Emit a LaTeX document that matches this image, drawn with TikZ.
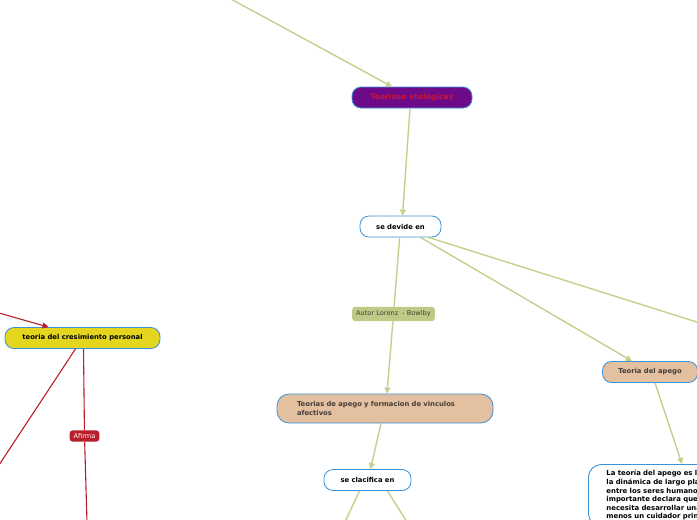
\documentclass[tikz,border=0pt]{standalone}
\usepackage{fontspec}
\setsansfont{DejaVu Sans}
\usepackage{tikz}
\usetikzlibrary{positioning,calc}
\usetikzlibrary{arrows.meta}
\definecolor{MapGreen}{RGB}{196,208,140}
\definecolor{MapBlue}{RGB}{58,146,216}
\definecolor{MapPurple}{RGB}{108,10,138}
\definecolor{MapRed}{RGB}{204,20,50}
\definecolor{LineRed}{RGB}{184,30,44}
\definecolor{MapTan}{RGB}{226,192,160}
\definecolor{MapYellow}{RGB}{228,214,30}
\definecolor{TagGreen}{RGB}{190,202,134}
\definecolor{TextGray}{RGB}{70,62,56}
\tikzset{
  box/.style={draw=MapBlue,line width=0.8pt,rounded corners=9pt,minimum height=21pt,
    inner xsep=6pt,font=\sffamily\bfseries\fontsize{6.8}{8.2}\selectfont},
  topic/.style={box,fill=MapPurple,text=MapRed,minimum width=120pt,font=\sffamily\bfseries\fontsize{7.6}{8.5}\selectfont},
  sub/.style={box,fill=white,text=black},
  tan/.style={box,fill=MapTan,text=TextGray},
  note/.style={draw=MapBlue,line width=0.9pt,fill=white,rounded corners=13pt,anchor=north west,
    inner xsep=18pt,inner ysep=6pt,text width=180pt,align=left,
    font=\sffamily\bfseries\fontsize{6.9}{8.6}\selectfont},
  tag/.style={rounded corners=3pt,inner xsep=4pt,inner ysep=4pt,font=\sffamily\fontsize{6.6}{7}\selectfont},
  edge/.style={draw=MapGreen,line width=1.4pt},
  redge/.style={draw=LineRed,line width=1.1pt},
}
\tikzset{tip/.style={-{Triangle[length=6pt,width=6pt]}}}

\begin{document}
\begin{tikzpicture}[x=1pt,y=-1pt]
\useasboundingbox (0,0) rectangle (697,520);
\clip (0,0) rectangle (697,520);
\fill[white] (0,0) rectangle (697,520);
% free ends
\coordinate (topin) at (231,-1);
\coordinate (rightout) at (700,323);
\coordinate (clleft) at (345,522);
\coordinate (clright) at (407,522);
\coordinate (redin) at (-1,313);
\coordinate (redleft) at (-1,465);
\coordinate (reddown) at (87,522);
% nodes
\node[topic] (etol) at (412,97.5) {Teoriasn etológicas};
\node[sub,minimum width=81pt] (devide) at (400.5,226.5) {se devide en};
\node[tag,fill=TagGreen,text=TextGray] (lorenz) at (393.5,314) {Autor Lorenz~~- Bowlby};
\node[tan,minimum width=216pt,minimum height=29pt,rounded corners=12pt,text width=176pt,align=left,inner xsep=20pt] (formacion) at (385,408.5)
  {Teorias de apego y formacion de vinculos\\afectivos};
\node[sub,minimum width=87pt] (clasif) at (367.5,480) {se clacifica en};
\node[tan,minimum width=95pt] (apego) at (650,372) {Teoría del apego};
\node[note] (texto) at (588,464) {La teoría del apego es la descripción de\\
  la dinámica de largo plazo de las relaciones\\
  entre los seres humanos. Su principio más\\
  importante declara que un recién nacido\\
  necesita desarrollar una relación con al\\
  menos un cuidador principal};
\node[box,fill=MapYellow,text=black,minimum width=155pt] (crec) at (82.5,338) {teoria del cresimiento personal};
\node[tag,fill=LineRed,text=white,inner ysep=3pt] (afirma) at (84.5,436) {Afirma};
% green links
\draw[edge,tip] (topin) -- ([xshift=-20pt]etol.north);
\draw[edge,tip] ([xshift=-2pt]etol.south) -- ([xshift=2pt]devide.north);
\draw[edge] (devide) -- (lorenz);
\draw[edge,tip] (lorenz) -- ([xshift=2pt]formacion.north);
\draw[edge,tip] ([xshift=20pt]devide.south) -- ([xshift=-18pt]apego.north);
\draw[edge] ([xshift=28pt]devide.south) -- (rightout);
\draw[edge,tip] ([xshift=-4pt]formacion.south) -- ([xshift=3pt]clasif.north);
\draw[edge] ([xshift=-8pt]clasif.south) -- (clleft);
\draw[edge] ([xshift=20pt]clasif.south) -- (clright);
\draw[edge,tip] ([xshift=5pt]apego.south) -- ([xshift=94pt]texto.north west);
% red links
\draw[redge,tip] (redin) -- ([xshift=-34pt]crec.north);
\draw[redge] ([xshift=-7pt]crec.south) -- (redleft);
\draw[redge] ([xshift=1pt]crec.south) -- (afirma);
\draw[redge] (afirma) -- (reddown);
\end{tikzpicture}
\end{document}
